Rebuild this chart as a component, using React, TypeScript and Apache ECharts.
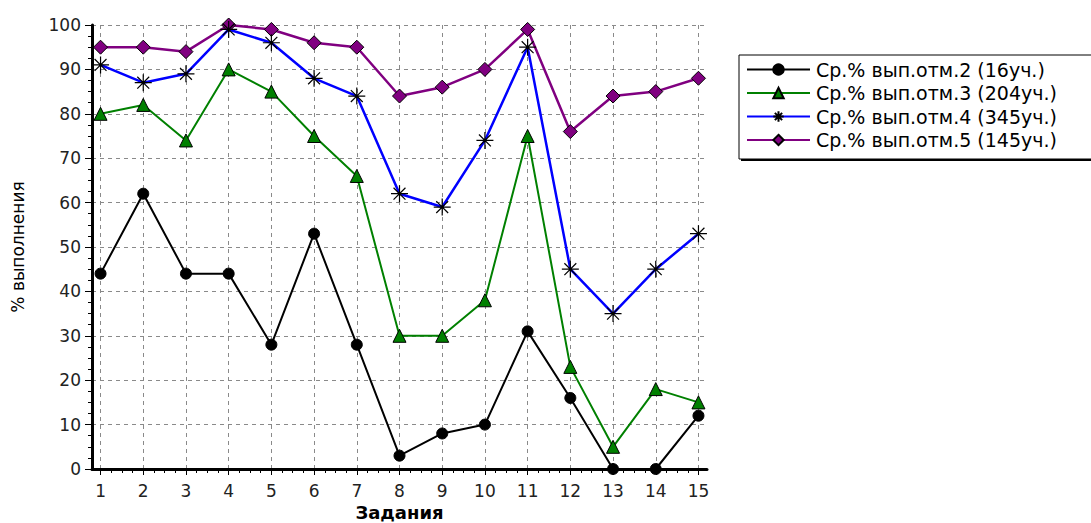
import React, { useEffect, useRef } from "react";
import * as echarts from "echarts";

const tasks = [1, 2, 3, 4, 5, 6, 7, 8, 9, 10, 11, 12, 13, 14, 15];
const yTicks = [0, 10, 20, 30, 40, 50, 60, 70, 80, 90, 100];

const names = [
  "Ср.% вып.отм.2 (16уч.)",
  "Ср.% вып.отм.3 (204уч.)",
  "Ср.% вып.отм.4 (345уч.)",
  "Ср.% вып.отм.5 (145уч.)",
];

const grade2 = [44, 62, 44, 44, 28, 53, 28, 3, 8, 10, 31, 16, 0, 0, 12];
const grade3 = [80, 82, 74, 90, 85, 75, 66, 30, 30, 38, 75, 23, 5, 18, 15];
const grade4 = [91, 87, 89, 99, 96, 88, 84, 62, 59, 74, 95, 45, 35, 45, 53];
const grade5 = [95, 95, 94, 100, 99, 96, 95, 84, 86, 90, 99, 76, 84, 85, 88];

const FONT = "DejaVu Sans";

const asterisk =
  "path://M0,-10L0,10M-10,0L10,0M-7,-7L7,7M-7,7L7,-7";

export default function App() {
  const ref = useRef<HTMLDivElement>(null);
  useEffect(() => {
    if (!ref.current) return;
    const chart = echarts.init(ref.current, undefined, { renderer: "svg" });
    const pts = (arr: number[]) => tasks.map((t, i) => [t, arr[i]]);
    const minorX: number[] = [];
    tasks.forEach((t) => {
      if (t < 15) minorX.push(t + 0.25, t + 0.5, t + 0.75);
    });
    const gridLine = { show: true, lineStyle: { color: "#8a8a8a", type: [4, 4], width: 1 } };
    chart.setOption({
      animation: false,
      backgroundColor: "#fff",
      textStyle: { fontFamily: FONT },
      grid: { left: 92, top: 25, width: 615, height: 444, outerBoundsMode: "none", containLabel: false },
      graphic: [
        { type: "rect", z: 0, shape: { x: 741, y: 57, width: 400, height: 104 }, style: { fill: "#000" } },
        { type: "rect", z: 1, shape: { x: 739, y: 55, width: 400, height: 104 }, style: { fill: "#fff", stroke: "#000", lineWidth: 1 } },
      ],
      legend: {
        orient: "vertical",
        left: 744,
        top: 58,
        padding: 2,
        itemWidth: 63,
        itemHeight: 13,
        itemGap: 4.5,
        z: 10,
        data: names,
        textStyle: { fontFamily: FONT, fontSize: 19, lineHeight: 19, color: "#000", padding: [0, 0, 0, 1] },
      },
      xAxis: [
        {
          type: "value",
          min: 0.8,
          max: 15.2,
          name: "Задания",
          nameLocation: "middle",
          nameGap: 34,
          nameTextStyle: { fontFamily: FONT, fontSize: 18, fontWeight: "bold", color: "#000" },
          axisLine: { show: true, onZero: false, lineStyle: { color: "#000", width: 3 } },
          axisTick: { show: true, customValues: tasks, length: 6, lineStyle: { color: "#000", width: 1 } },
          axisLabel: { customValues: tasks, margin: 13, fontFamily: FONT, fontSize: 17, color: "#222" },
          splitLine: gridLine,
        },
        {
          type: "value",
          min: 0.8,
          max: 15.2,
          position: "bottom",
          axisLine: { show: false },
          axisTick: { show: true, customValues: minorX, length: 4, lineStyle: { color: "#000", width: 1 } },
          axisLabel: { show: false },
          splitLine: { show: false },
        },
      ],
      yAxis: {
        type: "value",
        min: 0,
        max: 100,
        interval: 10,
        name: "% выполнения",
        nameLocation: "middle",
        nameGap: 66,
        nameTextStyle: { fontFamily: FONT, fontSize: 17, color: "#000" },
        axisLine: { show: true, lineStyle: { color: "#000", width: 3 } },
        axisTick: { show: true, length: 7, lineStyle: { color: "#000", width: 1 } },
        minorTick: { show: true, splitNumber: 4, length: 4, lineStyle: { color: "#000", width: 1 } },
        axisLabel: { margin: 11, fontFamily: FONT, fontSize: 17, color: "#222" },
        splitLine: gridLine,
        data: yTicks,
      },
      series: [
        {
          name: names[0],
          type: "line",
          data: pts(grade2),
          symbol: "circle",
          symbolSize: 11,
          z: 5,
          lineStyle: { color: "#000", width: 2 },
          itemStyle: { color: "#000", borderColor: "#000", borderWidth: 1 },
        },
        {
          name: names[1],
          type: "line",
          data: pts(grade3),
          symbol: "triangle",
          symbolSize: 13,
          z: 4,
          lineStyle: { color: "#008000", width: 2 },
          itemStyle: { color: "#008000", borderColor: "#000", borderWidth: 1 },
        },
        {
          name: names[2],
          type: "line",
          data: pts(grade4),
          symbol: asterisk,
          symbolSize: 17,
          z: 3,
          lineStyle: { color: "#0000ff", width: 2.5 },
          itemStyle: { color: "#0000ff", borderColor: "#000", borderWidth: 1.2 },
        },
        {
          name: names[3],
          type: "line",
          data: pts(grade5),
          symbol: "diamond",
          symbolSize: 14,
          z: 2,
          lineStyle: { color: "#800080", width: 2.5 },
          itemStyle: { color: "#800080", borderColor: "#000", borderWidth: 1 },
        },
      ],
    });
    return () => chart.dispose();
  }, []);
  return (
    <div
      ref={ref}
      style={{ position: "fixed", left: 0, top: 0, width: 1091, height: 523 }}
    />
  );
}
